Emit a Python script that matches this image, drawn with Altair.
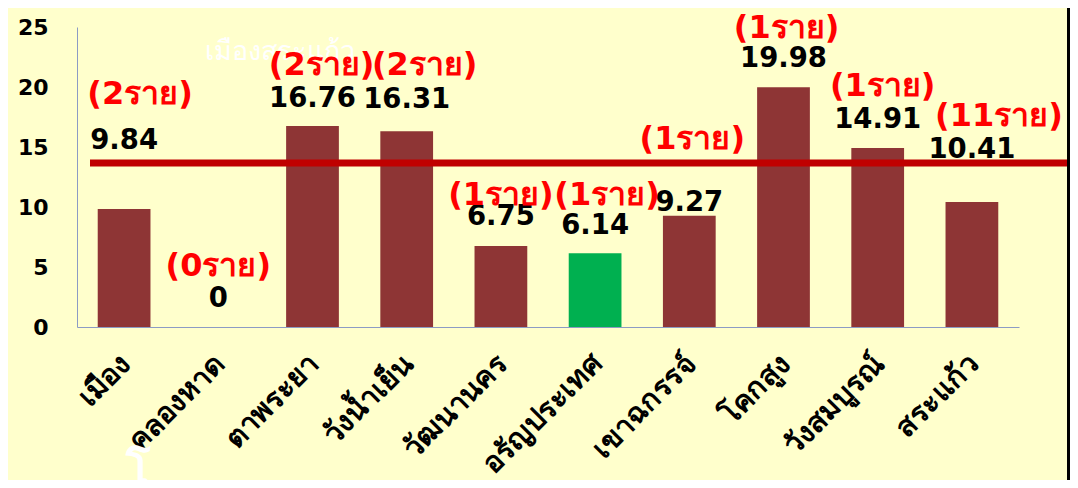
import altair as alt
import pandas as pd

# ---- data ----
districts = ["เมือง", "คลองหาด", "ตาพระยา", "วังน้ำเย็น", "วัฒนานคร",
             "อรัญประเทศ", "เขาฉกรรจ์", "โคกสูง", "วังสมบูรณ์", "สระแก้ว"]
rates = [9.84, 0, 16.76, 16.31, 6.75, 6.14, 9.27, 19.98, 14.91, 10.41]
cases = [2, 0, 2, 2, 1, 1, 1, 1, 1, 11]
highlight = "อรัญประเทศ"
reference_rate = 13.67

# label anchor heights (data units), as placed in the original slide
rate_label_y = [15.5, 2.33, 19.0, 18.9, 9.17, 8.42, 10.33, 22.33, 17.25, 14.75]
case_label_y = [19.42, 5.08, 21.83, 21.83, 11.0, 11.0, 15.67, 24.95, 20.08, 17.58]
case_label_shift = [16, 0, 9, 18, 0, 12, 3, 3, 5, 27]

rate_text = ["0" if v == 0 else f"{v:.2f}" for v in rates]
case_text = [f"({c}ราย)" for c in cases]

df = pd.DataFrame({
    "district": districts,
    "rate": rates,
    "rate_y": rate_label_y,
    "case_y": case_label_y,
    "shift": case_label_shift,
    "rate_text": rate_text,
    "case_text": case_text,
})

FONT = "DejaVu Sans"
BAR = "#8E3535"
GREEN = "#00B050"
AXIS_COL = "#8C9BC4"

y_scale = alt.Scale(domain=[0, 25], nice=False)
y_axis = alt.Axis(title=None, values=[0, 5, 10, 15, 20, 25], grid=False, ticks=False,
                  domainColor=AXIS_COL, labelFont=FONT, labelFontSize=22,
                  labelFontWeight="bold", labelColor="black", labelPadding=29)
x_scale = alt.Scale(paddingInner=0.44, paddingOuter=0.22)
x_axis = alt.Axis(title=None, labelAngle=315, labelFont=FONT, labelFontSize=29,
                  labelFontWeight="bold", labelColor="black", domainColor=AXIS_COL,
                  ticks=False, labelPadding=22, labelOffset=-8, labelLimit=400)


def X():
    return alt.X("district:N", sort=districts, scale=x_scale, axis=x_axis)


def Y(field):
    return alt.Y(f"{field}:Q", scale=y_scale, axis=y_axis)


base = alt.Chart(df)

bars = base.mark_bar().encode(
    x=X(), y=Y("rate"),
    color=alt.condition(alt.datum.district == highlight, alt.value(GREEN), alt.value(BAR)),
)

ghost = alt.Chart(pd.DataFrame({"t": ["เมืองสระแก้ว"]})).mark_text(
    font=FONT, fontSize=27, color="white", align="left", baseline="middle"
).encode(x=alt.value(128), y=alt.value(25), text="t:N")

ghost2 = alt.Chart(pd.DataFrame({"t": ["โ"]})).mark_text(
    font=FONT, fontSize=46, fontWeight="bold", color="white", align="center", baseline="top"
).encode(x=alt.value(61), y=alt.value(425), text="t:N")

ref_line = alt.Chart(pd.DataFrame({"rate": [reference_rate]})).mark_rule(
    color="#C00000", strokeWidth=7
).encode(y=Y("rate"), x=alt.value(13), x2=alt.value(993))

rate_labels = base.mark_text(
    font=FONT, fontSize=27.5, fontWeight="bold", color="black", baseline="middle"
).encode(x=X(), y=Y("rate_y"), text="rate_text:N")

case_layers = [
    base.transform_filter(alt.datum.shift == s).mark_text(
        font=FONT, fontSize=32, fontWeight="bold", color="#FF0000", baseline="middle", dx=s
    ).encode(x=X(), y=Y("case_y"), text="case_text:N")
    for s in sorted(set(case_label_shift))
]

border = alt.Chart(pd.DataFrame({"b": [0]})).mark_rule(color="black", strokeWidth=3).encode(
    x=alt.value(991.5), y=alt.value(-19), y2=alt.value(453)
)

chart = alt.layer(ghost, ghost2, bars, ref_line, rate_labels, *case_layers, border).properties(
    width=942, height=300,
    padding={"left": 69, "top": 19, "right": 51, "bottom": 153},
    autosize=alt.AutoSizeParams(type="none"),
).configure(background="#FFFFCC").configure_view(stroke=None)

chart.save("out.html", embed_options={"renderer": "svg", "actions": False})
